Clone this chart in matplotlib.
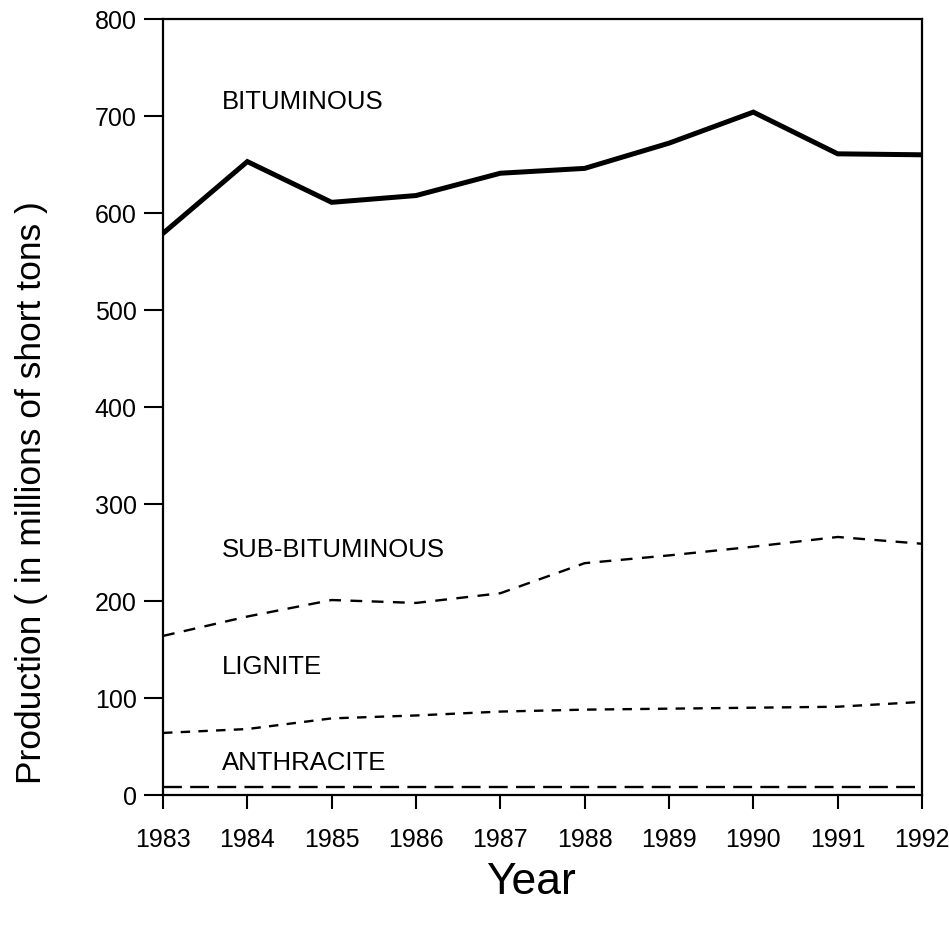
import matplotlib
matplotlib.use('Agg')
import matplotlib.pyplot as plt

years = [1983, 1984, 1985, 1986, 1987, 1988, 1989, 1990, 1991, 1992]
bituminous = [579, 653, 611, 618, 641, 646, 672, 704, 661, 660]
sub_bituminous = [164, 184, 201, 198, 208, 239, 247, 256, 266, 259]
lignite = [64, 68, 79, 82, 86, 88, 89, 90, 91, 96]
anthracite = [8, 8, 8, 8, 8, 8, 8, 8, 8, 8]

plt.rcParams['font.family'] = ['Liberation Sans', 'DejaVu Sans']

fig = plt.figure(figsize=(9.49, 9.30), dpi=100)
ax = fig.add_axes([163 / 949, 1 - 795 / 930, (922 - 163) / 949, (795 - 19) / 930])

ax.plot(years, bituminous, color='black', lw=3.6, solid_joinstyle='miter')
ax.plot(years, sub_bituminous, color='black', lw=1.7, dashes=(5, 4))
ax.plot(years, lignite, color='black', lw=1.7, dashes=(4, 3.5))
ax.plot(years, anthracite, color='black', lw=1.7, dashes=(8, 3.5))

# curve labels
ax.text(1983.7, 714, 'BITUMINOUS', fontsize=18.5, va='center', ha='left')
ax.text(1983.7, 253, 'SUB-BITUMINOUS', fontsize=18.5, va='center', ha='left')
ax.text(1983.7, 132, 'LIGNITE', fontsize=18.5, va='center', ha='left')
ax.text(1983.7, 33, 'ANTHRACITE', fontsize=18.5, va='center', ha='left')

ax.set_xlim(1983, 1992)
ax.set_ylim(0, 800)
ax.set_xticks(years)
ax.set_yticks(range(0, 801, 100))
ax.tick_params(axis='x', direction='out', length=10, width=1.5, labelsize=18, pad=14)
ax.tick_params(axis='y', direction='out', length=14, width=1.5, labelsize=18, pad=5)
for s in ax.spines.values():
    s.set_linewidth(1.6)

ax.set_xlabel('Year', fontsize=32)
ax.xaxis.set_label_coords(0.485, -0.086)
ax.set_ylabel('Production ( in millions of short tons )', fontsize=25.5)
ax.yaxis.set_label_coords(-0.152, 0.39)

fig.savefig('out.png', dpi=100)
